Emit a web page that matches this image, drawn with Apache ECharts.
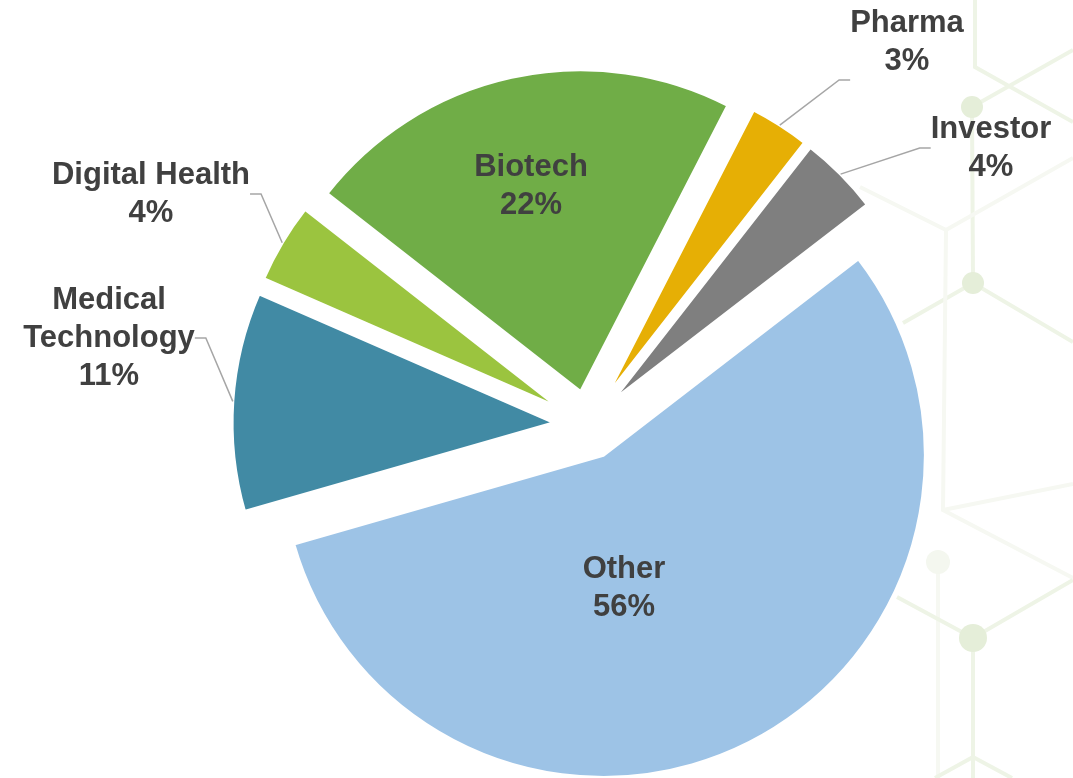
<!DOCTYPE html>
<html>
<head>
<meta charset="utf-8">
<title>Pie</title>
<script src="https://cdn.jsdelivr.net/npm/echarts@6/dist/echarts.min.js"></script>
<style>
  html, body { margin: 0; padding: 0; background: #fff; }
  #chart { width: 1073px; height: 778px; }
</style>
</head>
<body>
<div id="chart"></div>
<script>
// data, clockwise from the Biotech slice
var categories = ['Biotech', 'Pharma', 'Investor', 'Other', 'Medical Technology', 'Digital Health'];
var labelNames = ['Biotech', 'Pharma', 'Investor', 'Other', 'Medical\nTechnology', 'Digital Health'];
var shares = [22, 3, 4, 56, 11, 4];

var colors = ['#70AD47', '#E6AF05', '#7F7F7F', '#9DC3E6', '#418AA4', '#9BC43F'];
var outside = [false, true, true, false, true, true];
// where the label blocks sit (centre of the text)
var labelAt = [[531, 186], [907, 42], [991, 148], [624, 588], [109, 338], [151, 194]];
// blank lines under a label so its leader line meets the label's lower edge
var blankLines = [0, 2, 0, 0, 0, 0];
var lineH = 38;

var pieCenter = [588, 425];
var pieRadius = 322;
var explode = 34;

var myChart = echarts.init(document.getElementById('chart'));

// faint hexagon network in the background
var bgLines = [
	[[975, 0], [975, 67], [1073, 122]],
	[[972, 107], [1073, 50]],
	[[972, 107], [973, 283]],
	[[903, 323], [973, 283], [1073, 342]],
	[[860, 187], [946, 230], [1073, 158]],
	[[946, 230], [943, 510], [1073, 578]],
	[[943, 510], [1073, 484]],
	[[938, 562], [938, 778]],
	[[897, 597], [973, 638], [1073, 580]],
	[[973, 638], [973, 778]],
	[[935, 778], [973, 757], [1012, 778]]
];
var bgDots = [[972, 107, 11], [973, 283, 11], [938, 562, 12], [973, 638, 14]];

var graphics = [];
bgLines.forEach(function (pts, i) {
	graphics.push({
		type: 'polyline', silent: true, z: 0,
		shape: { points: pts },
		style: { stroke: i >= 4 && i <= 7 ? '#f6f8f2' : '#eef4e6', lineWidth: 4, fill: null }
	});
});
bgDots.forEach(function (d) {
	graphics.push({
		type: 'circle', silent: true, z: 0,
		shape: { cx: d[0], cy: d[1], r: d[2] },
		style: { fill: d[2] === 12 ? '#f4f7ef' : '#e5eed9' }
	});
});

var option = {
	backgroundColor: '#ffffff',
	animation: false,
	graphic: graphics,
	series: [{
		// the exploded slices
		type: 'pie',
		z: 2,
		center: pieCenter,
		radius: pieRadius,
		startAngle: 142,
		clockwise: true,
		selectedMode: 'multiple',
		selectedOffset: explode,
		emphasis: { disabled: true },
		itemStyle: { borderColor: '#ffffff', borderWidth: 3 },
		label: { show: false },
		labelLine: { show: false },
		data: categories.map(function (name, i) {
			return { name: name, value: shares[i], selected: true, itemStyle: { color: colors[i] } };
		})
	}, {
		// same slices, invisible, carrying the labels and leader lines
		type: 'pie',
		z: 3,
		silent: true,
		center: pieCenter,
		radius: pieRadius + explode,
		startAngle: 142,
		clockwise: true,
		percentPrecision: 0,
		avoidLabelOverlap: false,
		emphasis: { disabled: true },
		itemStyle: { color: 'rgba(0,0,0,0)', borderWidth: 0 },
		label: {
			show: true,
			formatter: function (p) {
				var lines = labelNames[p.dataIndex].split('\n');
				lines.push(p.percent + '%');
				var out = lines.map(function (l) { return '{t|' + l + '}'; });
				for (var k = 0; k < blankLines[p.dataIndex]; k++) {
					out.push('{t| }');
				}
				return out.join('\n');
			},
			rich: {
				t: {
					align: 'center',
					fontFamily: 'Liberation Sans, Arial, sans-serif',
					fontWeight: 'bold',
					fontSize: 31,
					lineHeight: lineH,
					color: '#404040'
				}
			}
		},
		labelLine: {
			length: 20,
			length2: 11,
			lineStyle: { color: '#A6A6A6', width: 1.5 }
		},
		labelLayout: function (params) {
			var i = params.dataIndex;
			return {
				x: labelAt[i][0],
				y: labelAt[i][1] + blankLines[i] * lineH / 2,
				align: 'center',
				verticalAlign: 'middle'
			};
		},
		data: categories.map(function (name, i) {
			return {
				name: name,
				value: shares[i],
				label: { position: outside[i] ? 'outside' : 'inside' },
				labelLine: { show: outside[i] }
			};
		})
	}]
};

myChart.setOption(option);
</script>
</body>
</html>
